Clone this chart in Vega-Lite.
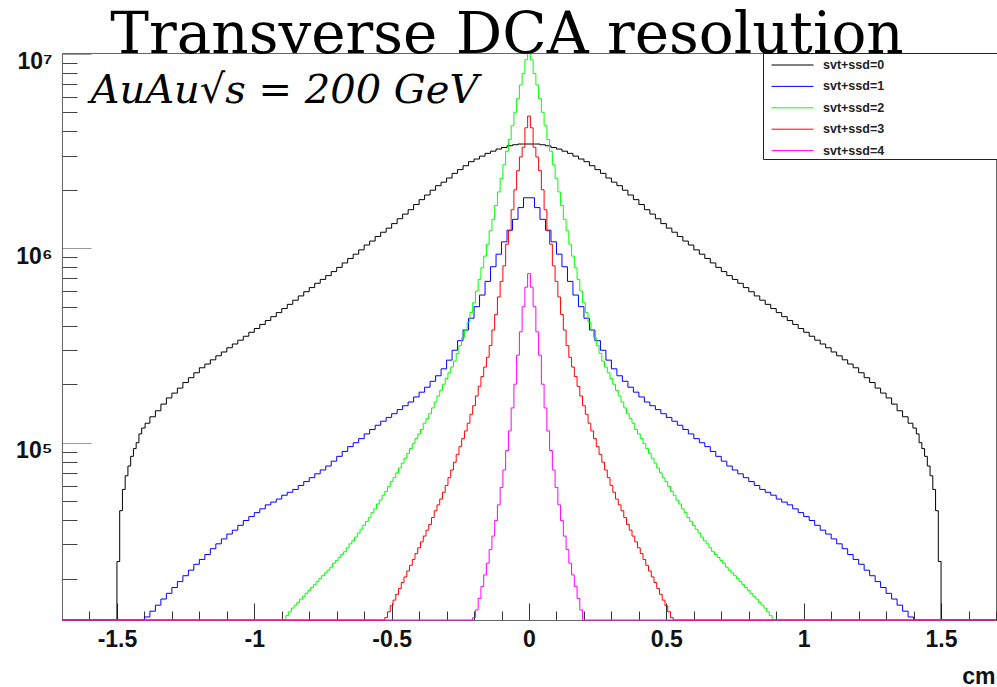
{
"$schema":"https://vega.github.io/schema/vega-lite/v6.json",
"width":934,"height":567,
"autosize":{"type":"none"},
"padding":{"left":62,"top":53,"right":1,"bottom":67},
"background":"white",
"title":{"text":"Transverse DCA resolution","font":"DejaVu Serif","fontSize":58,"fontWeight":"normal","color":"black","anchor":"middle","frame":"group","offset":0,"baseline":"alphabetic","dx":-22,"dy":60},
"config":{"view":{"stroke":"#666","strokeWidth":1},"axis":{"grid":false}},
"encoding":{
 "x":{"field":"x","type":"quantitative","scale":{"domain":[-1.7,1.7],"nice":false,"zero":false},
  "axis":{"values":[-1.7,-1.6,-1.5,-1.4,-1.3,-1.2,-1.1,-1.0,-0.9,-0.8,-0.7,-0.6,-0.5,-0.4,-0.3,-0.2,-0.1,0,0.1,0.2,0.3,0.4,0.5,0.6,0.7,0.8,0.9,1.0,1.1,1.2,1.3,1.4,1.5,1.6,1.7],
   "labelExpr":"abs(datum.value*2-round(datum.value*2))<0.001 ? toString(round(datum.value*10)/10) : ''",
   "tickSize":{"condition":{"test":"abs(datum.value*2-round(datum.value*2))<0.001","value":-17},"value":-9},
   "tickColor":"#333","tickWidth":1,"domain":true,"domainColor":"#666",
   "labelFont":"Liberation Sans","labelFontWeight":"bold","labelFontSize":23,"labelColor":"#111","labelPadding":25,"labelFlush":false,"labelOverlap":false,
   "title":"cm","titleFont":"Liberation Sans","titleFontWeight":"bold","titleFontSize":23,"titleColor":"#111","titleAnchor":"end","titleAlign":"right","titleBaseline":"alphabetic","titleX":933,"titleY":63}},
 "y":{"field":"y","type":"quantitative","scale":{"type":"log","domain":[12250,10110000],"clamp":true,"nice":false},
  "axis":{"values":[20000,30000,40000,50000,60000,70000,80000,90000,100000,200000,300000,400000,500000,600000,700000,800000,900000,1000000,2000000,3000000,4000000,5000000,6000000,7000000,8000000,9000000,10000000],
   "labelExpr":"datum.value==100000?'10⁵':datum.value==1000000?'10⁶':datum.value==10000000?'10⁷':''",
   "tickSize":{"condition":{"test":"datum.value==100000||datum.value==1000000||datum.value==10000000","value":-29},"value":-15},
   "tickColor":{"condition":{"test":"datum.value==100000||datum.value==1000000||datum.value==10000000","value":"#999"},"value":"#444"},
   "domain":true,"domainColor":"#666",
   "labelFont":"Liberation Sans","labelFontWeight":"bold","labelFontSize":23,"labelColor":"#111","labelPadding":39,"labelOffset":8,"labelFlush":false,"labelOverlap":false,
   "title":"AuAu√s = 200 GeV","titleFont":"DejaVu Serif","titleFontStyle":"italic","titleFontWeight":"normal","titleFontSize":40,"titleColor":"black","titleAngle":0,"titleAlign":"left","titleBaseline":"alphabetic","titleX":28,"titleY":49}}
},
"layer":[
{"data":{"values":[{"x":-1.7,"y":0},{"x":-1.505,"y":0},{"x":-1.495,"y":24500},{"x":-1.485,"y":44700},{"x":-1.475,"y":57500},{"x":-1.465,"y":67600},{"x":-1.455,"y":75900},{"x":-1.445,"y":85100},{"x":-1.435,"y":93300},{"x":-1.425,"y":100000},{"x":-1.415,"y":111000},{"x":-1.405,"y":119000},{"x":-1.39,"y":126000},{"x":-1.37,"y":136000},{"x":-1.35,"y":146000},{"x":-1.33,"y":158000},{"x":-1.31,"y":170000},{"x":-1.29,"y":180000},{"x":-1.27,"y":191000},{"x":-1.25,"y":204000},{"x":-1.23,"y":216000},{"x":-1.21,"y":229000},{"x":-1.19,"y":243000},{"x":-1.17,"y":254000},{"x":-1.15,"y":267000},{"x":-1.13,"y":280000},{"x":-1.11,"y":293000},{"x":-1.09,"y":308000},{"x":-1.07,"y":322000},{"x":-1.05,"y":337000},{"x":-1.03,"y":353000},{"x":-1.01,"y":370000},{"x":-0.99,"y":387000},{"x":-0.97,"y":406000},{"x":-0.95,"y":425000},{"x":-0.93,"y":445000},{"x":-0.91,"y":467000},{"x":-0.89,"y":490000},{"x":-0.87,"y":515000},{"x":-0.85,"y":541000},{"x":-0.83,"y":569000},{"x":-0.81,"y":598000},{"x":-0.79,"y":628000},{"x":-0.77,"y":661000},{"x":-0.75,"y":692000},{"x":-0.73,"y":724000},{"x":-0.71,"y":759000},{"x":-0.69,"y":798000},{"x":-0.67,"y":841000},{"x":-0.65,"y":887000},{"x":-0.63,"y":933000},{"x":-0.61,"y":982000},{"x":-0.59,"y":1040000},{"x":-0.57,"y":1090000},{"x":-0.55,"y":1150000},{"x":-0.53,"y":1210000},{"x":-0.51,"y":1270000},{"x":-0.49,"y":1340000},{"x":-0.47,"y":1420000},{"x":-0.45,"y":1500000},{"x":-0.43,"y":1580000},{"x":-0.41,"y":1680000},{"x":-0.39,"y":1780000},{"x":-0.37,"y":1880000},{"x":-0.35,"y":1990000},{"x":-0.33,"y":2100000},{"x":-0.31,"y":2190000},{"x":-0.29,"y":2300000},{"x":-0.27,"y":2430000},{"x":-0.25,"y":2540000},{"x":-0.23,"y":2660000},{"x":-0.21,"y":2790000},{"x":-0.19,"y":2880000},{"x":-0.17,"y":2980000},{"x":-0.15,"y":3080000},{"x":-0.13,"y":3160000},{"x":-0.11,"y":3240000},{"x":-0.09,"y":3300000},{"x":-0.07,"y":3370000},{"x":-0.05,"y":3410000},{"x":-0.03,"y":3440000},{"x":-0.01,"y":3440000},
{"x":0.01,"y":3440000},{"x":0.03,"y":3440000},{"x":0.05,"y":3410000},{"x":0.07,"y":3370000},{"x":0.09,"y":3300000},{"x":0.11,"y":3240000},{"x":0.13,"y":3160000},{"x":0.15,"y":3080000},{"x":0.17,"y":2980000},{"x":0.19,"y":2880000},{"x":0.21,"y":2790000},{"x":0.23,"y":2660000},{"x":0.25,"y":2540000},{"x":0.27,"y":2430000},{"x":0.29,"y":2300000},{"x":0.31,"y":2190000},{"x":0.33,"y":2100000},{"x":0.35,"y":1990000},{"x":0.37,"y":1880000},{"x":0.39,"y":1780000},{"x":0.41,"y":1680000},{"x":0.43,"y":1580000},{"x":0.45,"y":1500000},{"x":0.47,"y":1420000},{"x":0.49,"y":1340000},{"x":0.51,"y":1270000},{"x":0.53,"y":1210000},{"x":0.55,"y":1150000},{"x":0.57,"y":1090000},{"x":0.59,"y":1040000},{"x":0.61,"y":982000},{"x":0.63,"y":933000},{"x":0.65,"y":887000},{"x":0.67,"y":841000},{"x":0.69,"y":798000},{"x":0.71,"y":759000},{"x":0.73,"y":724000},{"x":0.75,"y":692000},{"x":0.77,"y":661000},{"x":0.79,"y":628000},{"x":0.81,"y":598000},{"x":0.83,"y":569000},{"x":0.85,"y":541000},{"x":0.87,"y":515000},{"x":0.89,"y":490000},{"x":0.91,"y":467000},{"x":0.93,"y":445000},{"x":0.95,"y":425000},{"x":0.97,"y":406000},{"x":0.99,"y":387000},{"x":1.01,"y":370000},{"x":1.03,"y":353000},{"x":1.05,"y":337000},{"x":1.07,"y":322000},{"x":1.09,"y":308000},{"x":1.11,"y":293000},{"x":1.13,"y":280000},{"x":1.15,"y":267000},{"x":1.17,"y":254000},{"x":1.19,"y":243000},{"x":1.21,"y":229000},{"x":1.23,"y":216000},{"x":1.25,"y":204000},{"x":1.27,"y":191000},{"x":1.29,"y":180000},{"x":1.31,"y":170000},{"x":1.33,"y":158000},{"x":1.35,"y":146000},{"x":1.37,"y":136000},{"x":1.39,"y":126000},{"x":1.405,"y":119000},{"x":1.415,"y":111000},{"x":1.425,"y":100000},{"x":1.435,"y":93300},{"x":1.445,"y":85100},{"x":1.455,"y":75900},{"x":1.465,"y":67600},{"x":1.475,"y":57500},{"x":1.485,"y":44700},{"x":1.495,"y":24500},{"x":1.505,"y":0},{"x":1.7,"y":0}]},
 "mark":{"type":"line","interpolate":"step","strokeWidth":1,"invalid":"show","clip":false},
 "encoding":{"color":{"datum":"svt+ssd=0","type":"nominal","scale":{"domain":["svt+ssd=0","svt+ssd=1","svt+ssd=2","svt+ssd=3","svt+ssd=4"],"range":["#000000","#0000ff","#00ff00","#ff0000","#ff00ff"]},
  "legend":{"orient":"none","legendX":701,"legendY":0,"title":null,"symbolType":"M-0.33,0L3.67,0M20.95,0L20.95,0","symbolSize":441,"symbolStrokeWidth":1,"labelFont":"Liberation Sans","labelFontWeight":"bold","labelFontSize":12.5,"labelColor":"#222","labelOffset":37,"padding":1,"rowPadding":3.4,"strokeColor":"#222","fillColor":"white"}}}},
{"data":{"values":[{"x":-1.7,"y":0},{"x":-1.41,"y":0},{"x":-1.39,"y":12700},{"x":-1.37,"y":13600},{"x":-1.35,"y":14600},{"x":-1.33,"y":15700},{"x":-1.31,"y":16800},{"x":-1.29,"y":18000},{"x":-1.27,"y":19300},{"x":-1.25,"y":20700},{"x":-1.23,"y":22100},{"x":-1.21,"y":23700},{"x":-1.19,"y":25100},{"x":-1.17,"y":26600},{"x":-1.15,"y":28500},{"x":-1.13,"y":30200},{"x":-1.11,"y":32000},{"x":-1.09,"y":33900},{"x":-1.07,"y":35500},{"x":-1.05,"y":37600},{"x":-1.03,"y":39800},{"x":-1.01,"y":41700},{"x":-0.99,"y":43700},{"x":-0.97,"y":45700},{"x":-0.95,"y":47900},{"x":-0.93,"y":49500},{"x":-0.91,"y":51300},{"x":-0.89,"y":53700},{"x":-0.87,"y":55600},{"x":-0.85,"y":57500},{"x":-0.83,"y":60300},{"x":-0.81,"y":63100},{"x":-0.79,"y":66100},{"x":-0.77,"y":69200},{"x":-0.75,"y":72400},{"x":-0.73,"y":75900},{"x":-0.71,"y":80400},{"x":-0.69,"y":85100},{"x":-0.67,"y":90200},{"x":-0.65,"y":95500},{"x":-0.63,"y":100000},{"x":-0.61,"y":105000},{"x":-0.59,"y":111000},{"x":-0.57,"y":117000},{"x":-0.55,"y":123000},{"x":-0.53,"y":129000},{"x":-0.51,"y":135000},{"x":-0.49,"y":141000},{"x":-0.47,"y":148000},{"x":-0.45,"y":155000},{"x":-0.43,"y":162000},{"x":-0.41,"y":172000},{"x":-0.39,"y":182000},{"x":-0.37,"y":193000},{"x":-0.35,"y":207000},{"x":-0.33,"y":221000},{"x":-0.31,"y":240000},{"x":-0.29,"y":266000},{"x":-0.27,"y":299000},{"x":-0.25,"y":335000},{"x":-0.23,"y":380000},{"x":-0.21,"y":437000},{"x":-0.19,"y":501000},{"x":-0.17,"y":575000},{"x":-0.15,"y":676000},{"x":-0.13,"y":804000},{"x":-0.11,"y":933000},{"x":-0.09,"y":1080000},{"x":-0.07,"y":1240000},{"x":-0.05,"y":1410000},{"x":-0.03,"y":1620000},{"x":-0.01,"y":1820000},
{"x":0.01,"y":1820000},{"x":0.03,"y":1620000},{"x":0.05,"y":1410000},{"x":0.07,"y":1240000},{"x":0.09,"y":1080000},{"x":0.11,"y":933000},{"x":0.13,"y":804000},{"x":0.15,"y":676000},{"x":0.17,"y":575000},{"x":0.19,"y":501000},{"x":0.21,"y":437000},{"x":0.23,"y":380000},{"x":0.25,"y":335000},{"x":0.27,"y":299000},{"x":0.29,"y":266000},{"x":0.31,"y":240000},{"x":0.33,"y":221000},{"x":0.35,"y":207000},{"x":0.37,"y":193000},{"x":0.39,"y":182000},{"x":0.41,"y":172000},{"x":0.43,"y":162000},{"x":0.45,"y":155000},{"x":0.47,"y":148000},{"x":0.49,"y":141000},{"x":0.51,"y":135000},{"x":0.53,"y":129000},{"x":0.55,"y":123000},{"x":0.57,"y":117000},{"x":0.59,"y":111000},{"x":0.61,"y":105000},{"x":0.63,"y":100000},{"x":0.65,"y":95500},{"x":0.67,"y":90200},{"x":0.69,"y":85100},{"x":0.71,"y":80400},{"x":0.73,"y":75900},{"x":0.75,"y":72400},{"x":0.77,"y":69200},{"x":0.79,"y":66100},{"x":0.81,"y":63100},{"x":0.83,"y":60300},{"x":0.85,"y":57500},{"x":0.87,"y":55600},{"x":0.89,"y":53700},{"x":0.91,"y":51300},{"x":0.93,"y":49500},{"x":0.95,"y":47900},{"x":0.97,"y":45700},{"x":0.99,"y":43700},{"x":1.01,"y":41700},{"x":1.03,"y":39800},{"x":1.05,"y":37600},{"x":1.07,"y":35500},{"x":1.09,"y":33900},{"x":1.11,"y":32000},{"x":1.13,"y":30200},{"x":1.15,"y":28500},{"x":1.17,"y":26600},{"x":1.19,"y":25100},{"x":1.21,"y":23700},{"x":1.23,"y":22100},{"x":1.25,"y":20700},{"x":1.27,"y":19300},{"x":1.29,"y":18000},{"x":1.31,"y":16800},{"x":1.33,"y":15700},{"x":1.35,"y":14600},{"x":1.37,"y":13600},{"x":1.39,"y":12700},{"x":1.41,"y":0},{"x":1.7,"y":0}]},
 "mark":{"type":"line","interpolate":"step","strokeWidth":1,"invalid":"show","clip":false},
 "encoding":{"color":{"datum":"svt+ssd=1","type":"nominal"}}},
{"data":{"values":[{"x":-1.7,"y":0},{"x":-0.89,"y":0},{"x":-0.88,"y":12900},{"x":-0.87,"y":13500},{"x":-0.86,"y":14100},{"x":-0.85,"y":14600},{"x":-0.84,"y":15100},{"x":-0.83,"y":15700},{"x":-0.82,"y":16200},{"x":-0.81,"y":16800},{"x":-0.8,"y":17400},{"x":-0.79,"y":18000},{"x":-0.78,"y":18600},{"x":-0.77,"y":19300},{"x":-0.76,"y":20000},{"x":-0.75,"y":20700},{"x":-0.74,"y":21400},{"x":-0.73,"y":22100},{"x":-0.72,"y":22900},{"x":-0.71,"y":24000},{"x":-0.7,"y":24800},{"x":-0.69,"y":25700},{"x":-0.68,"y":26600},{"x":-0.67,"y":27500},{"x":-0.66,"y":28800},{"x":-0.65,"y":30200},{"x":-0.64,"y":31300},{"x":-0.63,"y":32700},{"x":-0.62,"y":34300},{"x":-0.61,"y":35900},{"x":-0.6,"y":37600},{"x":-0.59,"y":39400},{"x":-0.58,"y":41200},{"x":-0.57,"y":43700},{"x":-0.56,"y":45700},{"x":-0.55,"y":48400},{"x":-0.54,"y":50700},{"x":-0.53,"y":53700},{"x":-0.52,"y":56200},{"x":-0.51,"y":59600},{"x":-0.5,"y":63100},{"x":-0.49,"y":66100},{"x":-0.48,"y":70000},{"x":-0.47,"y":74100},{"x":-0.46,"y":78500},{"x":-0.45,"y":83200},{"x":-0.44,"y":88100},{"x":-0.43,"y":93300},{"x":-0.42,"y":98900},{"x":-0.41,"y":105000},{"x":-0.4,"y":111000},{"x":-0.39,"y":117000},{"x":-0.38,"y":126000},{"x":-0.37,"y":133000},{"x":-0.36,"y":141000},{"x":-0.35,"y":151000},{"x":-0.34,"y":162000},{"x":-0.33,"y":174000},{"x":-0.32,"y":186000},{"x":-0.31,"y":200000},{"x":-0.3,"y":214000},{"x":-0.29,"y":229000},{"x":-0.28,"y":245000},{"x":-0.27,"y":263000},{"x":-0.26,"y":288000},{"x":-0.25,"y":316000},{"x":-0.24,"y":347000},{"x":-0.23,"y":380000},{"x":-0.22,"y":417000},{"x":-0.21,"y":468000},{"x":-0.2,"y":525000},{"x":-0.19,"y":603000},{"x":-0.18,"y":692000},{"x":-0.17,"y":794000},{"x":-0.16,"y":912000},{"x":-0.15,"y":1050000},{"x":-0.14,"y":1230000},{"x":-0.13,"y":1410000},{"x":-0.12,"y":1660000},{"x":-0.11,"y":1950000},{"x":-0.1,"y":2290000},{"x":-0.09,"y":2690000},{"x":-0.08,"y":3160000},{"x":-0.07,"y":3630000},{"x":-0.06,"y":4270000},{"x":-0.05,"y":5010000},{"x":-0.04,"y":5890000},{"x":-0.03,"y":6920000},{"x":-0.02,"y":7940000},{"x":-0.01,"y":9330000},{"x":0,"y":10500000},
{"x":0.01,"y":9330000},{"x":0.02,"y":7940000},{"x":0.03,"y":6920000},{"x":0.04,"y":5890000},{"x":0.05,"y":5010000},{"x":0.06,"y":4270000},{"x":0.07,"y":3630000},{"x":0.08,"y":3160000},{"x":0.09,"y":2690000},{"x":0.1,"y":2290000},{"x":0.11,"y":1950000},{"x":0.12,"y":1660000},{"x":0.13,"y":1410000},{"x":0.14,"y":1230000},{"x":0.15,"y":1050000},{"x":0.16,"y":912000},{"x":0.17,"y":794000},{"x":0.18,"y":692000},{"x":0.19,"y":603000},{"x":0.2,"y":525000},{"x":0.21,"y":468000},{"x":0.22,"y":417000},{"x":0.23,"y":380000},{"x":0.24,"y":347000},{"x":0.25,"y":316000},{"x":0.26,"y":288000},{"x":0.27,"y":263000},{"x":0.28,"y":245000},{"x":0.29,"y":229000},{"x":0.3,"y":214000},{"x":0.31,"y":200000},{"x":0.32,"y":186000},{"x":0.33,"y":174000},{"x":0.34,"y":162000},{"x":0.35,"y":151000},{"x":0.36,"y":141000},{"x":0.37,"y":133000},{"x":0.38,"y":126000},{"x":0.39,"y":117000},{"x":0.4,"y":111000},{"x":0.41,"y":105000},{"x":0.42,"y":98900},{"x":0.43,"y":93300},{"x":0.44,"y":88100},{"x":0.45,"y":83200},{"x":0.46,"y":78500},{"x":0.47,"y":74100},{"x":0.48,"y":70000},{"x":0.49,"y":66100},{"x":0.5,"y":63100},{"x":0.51,"y":59600},{"x":0.52,"y":56200},{"x":0.53,"y":53700},{"x":0.54,"y":50700},{"x":0.55,"y":48400},{"x":0.56,"y":45700},{"x":0.57,"y":43700},{"x":0.58,"y":41200},{"x":0.59,"y":39400},{"x":0.6,"y":37600},{"x":0.61,"y":35900},{"x":0.62,"y":34300},{"x":0.63,"y":32700},{"x":0.64,"y":31300},{"x":0.65,"y":30200},{"x":0.66,"y":28800},{"x":0.67,"y":27500},{"x":0.68,"y":26600},{"x":0.69,"y":25700},{"x":0.7,"y":24800},{"x":0.71,"y":24000},{"x":0.72,"y":22900},{"x":0.73,"y":22100},{"x":0.74,"y":21400},{"x":0.75,"y":20700},{"x":0.76,"y":20000},{"x":0.77,"y":19300},{"x":0.78,"y":18600},{"x":0.79,"y":18000},{"x":0.8,"y":17400},{"x":0.81,"y":16800},{"x":0.82,"y":16200},{"x":0.83,"y":15700},{"x":0.84,"y":15100},{"x":0.85,"y":14600},{"x":0.86,"y":14100},{"x":0.87,"y":13500},{"x":0.88,"y":12900},{"x":0.89,"y":0},{"x":1.7,"y":0}]},
 "mark":{"type":"line","interpolate":"step","strokeWidth":1,"invalid":"show","clip":false},
 "encoding":{"color":{"datum":"svt+ssd=2","type":"nominal"}}},
{"data":{"values":[{"x":-1.7,"y":0},{"x":-0.53,"y":0},{"x":-0.52,"y":12600},{"x":-0.51,"y":13500},{"x":-0.5,"y":14500},{"x":-0.49,"y":15500},{"x":-0.48,"y":16600},{"x":-0.47,"y":17800},{"x":-0.46,"y":19100},{"x":-0.45,"y":20400},{"x":-0.44,"y":21900},{"x":-0.43,"y":23400},{"x":-0.42,"y":25100},{"x":-0.41,"y":26900},{"x":-0.4,"y":28800},{"x":-0.39,"y":30900},{"x":-0.38,"y":33100},{"x":-0.37,"y":35500},{"x":-0.36,"y":38000},{"x":-0.35,"y":41200},{"x":-0.34,"y":44700},{"x":-0.33,"y":47900},{"x":-0.32,"y":51300},{"x":-0.31,"y":55600},{"x":-0.3,"y":60300},{"x":-0.29,"y":66100},{"x":-0.28,"y":72400},{"x":-0.27,"y":79400},{"x":-0.26,"y":87100},{"x":-0.25,"y":95500},{"x":-0.24,"y":105000},{"x":-0.23,"y":115000},{"x":-0.22,"y":126000},{"x":-0.21,"y":140000},{"x":-0.2,"y":155000},{"x":-0.19,"y":174000},{"x":-0.18,"y":195000},{"x":-0.17,"y":219000},{"x":-0.16,"y":245000},{"x":-0.15,"y":275000},{"x":-0.14,"y":316000},{"x":-0.13,"y":380000},{"x":-0.12,"y":457000},{"x":-0.11,"y":562000},{"x":-0.1,"y":676000},{"x":-0.09,"y":813000},{"x":-0.08,"y":1050000},{"x":-0.07,"y":1230000},{"x":-0.06,"y":1580000},{"x":-0.05,"y":2000000},{"x":-0.04,"y":2510000},{"x":-0.03,"y":2950000},{"x":-0.02,"y":3310000},{"x":-0.01,"y":4170000},{"x":0,"y":4790000},
{"x":0.01,"y":4170000},{"x":0.02,"y":3310000},{"x":0.03,"y":2950000},{"x":0.04,"y":2510000},{"x":0.05,"y":2000000},{"x":0.06,"y":1580000},{"x":0.07,"y":1230000},{"x":0.08,"y":1050000},{"x":0.09,"y":813000},{"x":0.1,"y":676000},{"x":0.11,"y":562000},{"x":0.12,"y":457000},{"x":0.13,"y":380000},{"x":0.14,"y":316000},{"x":0.15,"y":275000},{"x":0.16,"y":245000},{"x":0.17,"y":219000},{"x":0.18,"y":195000},{"x":0.19,"y":174000},{"x":0.2,"y":155000},{"x":0.21,"y":140000},{"x":0.22,"y":126000},{"x":0.23,"y":115000},{"x":0.24,"y":105000},{"x":0.25,"y":95500},{"x":0.26,"y":87100},{"x":0.27,"y":79400},{"x":0.28,"y":72400},{"x":0.29,"y":66100},{"x":0.3,"y":60300},{"x":0.31,"y":55600},{"x":0.32,"y":51300},{"x":0.33,"y":47900},{"x":0.34,"y":44700},{"x":0.35,"y":41200},{"x":0.36,"y":38000},{"x":0.37,"y":35500},{"x":0.38,"y":33100},{"x":0.39,"y":30900},{"x":0.4,"y":28800},{"x":0.41,"y":26900},{"x":0.42,"y":25100},{"x":0.43,"y":23400},{"x":0.44,"y":21900},{"x":0.45,"y":20400},{"x":0.46,"y":19100},{"x":0.47,"y":17800},{"x":0.48,"y":16600},{"x":0.49,"y":15500},{"x":0.5,"y":14500},{"x":0.51,"y":13500},{"x":0.52,"y":12600},{"x":0.53,"y":0},{"x":1.7,"y":0}]},
 "mark":{"type":"line","interpolate":"step","strokeWidth":1,"invalid":"show","clip":false},
 "encoding":{"color":{"datum":"svt+ssd=3","type":"nominal"}}},
{"data":{"values":[{"x":-1.7,"y":0},{"x":-0.21,"y":0},{"x":-0.2,"y":12600},{"x":-0.19,"y":13800},{"x":-0.18,"y":15800},{"x":-0.17,"y":18200},{"x":-0.16,"y":20900},{"x":-0.15,"y":24000},{"x":-0.14,"y":28200},{"x":-0.13,"y":33100},{"x":-0.12,"y":39800},{"x":-0.11,"y":47900},{"x":-0.1,"y":58900},{"x":-0.09,"y":72400},{"x":-0.08,"y":91200},{"x":-0.07,"y":115000},{"x":-0.06,"y":151000},{"x":-0.05,"y":200000},{"x":-0.04,"y":282000},{"x":-0.03,"y":372000},{"x":-0.02,"y":501000},{"x":-0.01,"y":631000},{"x":0,"y":741000},{"x":0.01,"y":631000},{"x":0.02,"y":501000},{"x":0.03,"y":372000},{"x":0.04,"y":282000},{"x":0.05,"y":200000},{"x":0.06,"y":151000},{"x":0.07,"y":115000},{"x":0.08,"y":91200},{"x":0.09,"y":72400},{"x":0.1,"y":58900},{"x":0.11,"y":47900},{"x":0.12,"y":39800},{"x":0.13,"y":33100},{"x":0.14,"y":28200},{"x":0.15,"y":24000},{"x":0.16,"y":20900},{"x":0.17,"y":18200},{"x":0.18,"y":15800},{"x":0.19,"y":13800},{"x":0.2,"y":0},{"x":1.7,"y":0}]},
 "mark":{"type":"line","interpolate":"step","strokeWidth":1,"invalid":"show","clip":false},
 "encoding":{"color":{"datum":"svt+ssd=4","type":"nominal"}}}
]
}
